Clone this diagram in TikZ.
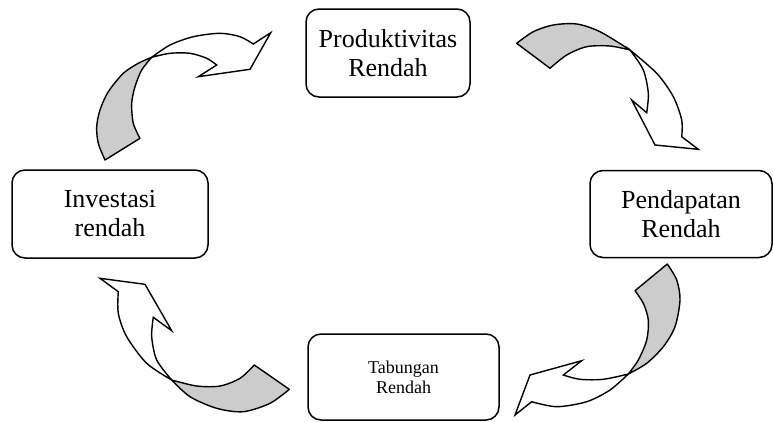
\documentclass[tikz,border=0pt]{standalone}
\usepackage{fontspec}
\setmainfont{Liberation Serif}
\begin{document}
\begin{tikzpicture}
[x=1pt,y=-1pt,
  boxdecorate/.style={draw,rounded corners=13pt,line width=1.5pt,align=center,
    inner sep=0pt,font=\fontsize{26}{29}\selectfont},
  backdecorate/.style={fill=black!20,draw,line width=1.4pt,line join=round},
  frontdecorate/.style={fill=white,draw,line width=1.4pt,line join=miter}]
\useasboundingbox (0,0) rectangle (773,421);
%% nodes or boxes
\foreach \nodename/\x/\y/\w/\h/\txt in {prod/388/53/164/88/{Produktivitas\\Rendah},
  pend/681/214/182/87/{Pendapatan\\Rendah}, inv/110/214/196/88/{Investasi\\rendah}} {
  \node (\nodename) at (\x,\y) [boxdecorate,minimum width=\w,minimum height=\h] {\txt};
}
\node (tab) at (403.5,377) [boxdecorate,minimum width=191,minimum height=86,
  font=\fontsize{18}{20}\selectfont] {Tabungan\\Rendah};
%% curved arrows: back side (grey) and front side (white)
% investasi -> produktivitas
\filldraw[backdecorate] plot[smooth] coordinates {(105,160) (98.3,143.3) (96.7,126.7)
  (100,110) (108.3,91.7) (123.3,73.3) (138.3,63.3) (151.7,57.3)}
  -- plot[smooth] coordinates {(151.7,57.3) (141.7,70) (135,86.7) (131.7,103.3)
  (133.3,123.3) (140,138.3)} -- cycle;
\filldraw[frontdecorate] plot[smooth] coordinates {(151.7,57.3) (170,45) (193.3,36.7)
  (220,33.3) (240,36.7) (253.3,44)} -- (270.7,32.7) -- (250,69.3) -- (198.3,76.7)
  -- plot[smooth] coordinates {(216.7,65) (206.7,58.3) (190,53.3) (170,53.3)
  (151.7,57.3)} -- cycle;
% produktivitas -> pendapatan
\filldraw[backdecorate] plot[smooth] coordinates {(516.7,43.3) (533.3,31.7) (553.3,25)
  (576.7,24) (600,31.7) (630,50)}
  -- plot[smooth] coordinates {(630,50) (610,46) (586.7,46.7) (566.7,55) (550,68.3)}
  -- cycle;
\filldraw[frontdecorate] plot[smooth] coordinates {(630,50) (656.7,73.3) (673.3,96.7)
  (681.7,120) (681.7,136.7)} -- (698.3,149.3) -- (655,145) -- (631.7,100)
  -- plot[smooth] coordinates {(646.7,112.7) (648.3,93.3) (643.3,70) (630,50)} -- cycle;
% pendapatan -> tabungan
\filldraw[backdecorate] plot[smooth] coordinates {(667.3,264) (676.7,280) (680,300)
  (675,326.7) (663.3,346.7) (646.7,363.3) (628.3,374)}
  -- plot[smooth] coordinates {(628.3,374) (638.3,360) (646.7,340) (648.3,320)
  (643.3,303.3) (635,290.7)} -- cycle;
\filldraw[frontdecorate] plot[smooth] coordinates {(628.3,374) (610,390) (586.7,401.7)
  (556.7,406.7) (531.7,401.7)} -- (515,415) -- (530,375) -- (581.7,360.7)
  -- plot[smooth] coordinates {(563.3,375) (580,379.3) (603.3,379.3) (628.3,374)} -- cycle;
% tabungan -> investasi
\filldraw[backdecorate] plot[smooth] coordinates {(289.3,389.3) (270,403.3) (243.3,411.7)
  (216.7,408.3) (190,396.7) (171.7,380)}
  -- plot[smooth] coordinates {(171.7,380) (196.7,386) (220,386) (240,378.3) (254.3,365)}
  -- cycle;
\filldraw[frontdecorate] plot[smooth] coordinates {(171.7,380) (146.7,363.3) (126.7,336.7)
  (118.3,313.3) (118.3,291.7)} -- (100,278.3) -- (145,284.3) -- (171.7,330.7)
  -- plot[smooth] coordinates {(153.3,317.3) (151.7,336.7) (156.7,360) (171.7,380)} -- cycle;
\end{tikzpicture}
\end{document}
